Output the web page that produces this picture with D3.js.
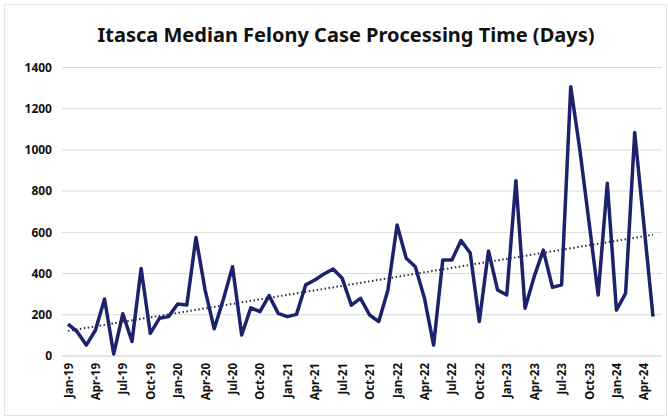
<!DOCTYPE html>
<html>
<head>
<meta charset="utf-8">
<script src="https://cdn.jsdelivr.net/npm/d3@7"></script>
<style>
  body { margin: 0; background: #fff; }
  text { font-family: "Noto Sans", "DejaVu Sans", sans-serif; font-weight: bold; fill: #111; }
</style>
</head>
<body>
<div id="chart"></div>
<script>
// months Jan-19 .. May-24
var monthNames = ["Jan", "Feb", "Mar", "Apr", "May", "Jun", "Jul", "Aug", "Sep", "Oct", "Nov", "Dec"];
var years = ["19", "20", "21", "22", "23", "24"];
var months = [];
years.forEach(function(y) {
  monthNames.forEach(function(m) { months.push(m + "-" + y); });
});
months = months.slice(0, 65);

// median days
var days = [
  155, 118, 53, 125, 277, 10, 205, 70, 425, 110, 183, 191,
  252, 247, 575, 320, 132, 275, 433, 102, 234, 215, 293, 207,
  191, 202, 345, 369, 398, 422, 377, 247, 280, 199, 167, 320,
  636, 474, 433, 280, 53, 466, 466, 560, 500, 167, 510, 320,
  296, 851, 232, 385, 514, 333, 345, 1307, 1000, 650, 296, 838,
  223, 304, 1084, 640, 191
];

var yTicks = [0, 200, 400, 600, 800, 1000, 1200, 1400];
var xTickLabels = months.filter(function(d, i) { return i % 3 === 0; });

var W = 668, H = 419;
var svg = d3.select("#chart").append("svg")
  .attr("width", W)
  .attr("height", H);

// faint frame
svg.append("rect")
  .attr("x", 4.5).attr("y", 4.5)
  .attr("width", W - 6).attr("height", H - 8)
  .attr("fill", "#fff")
  .attr("stroke", "#e4e4e4");

var x = d3.scalePoint()
  .domain(months)
  .range([68, 653]);

var y = d3.scaleLinear()
  .domain([0, 1400])
  .range([356, 67.5]);

// gridlines
svg.append("g")
  .selectAll("line")
  .data(yTicks)
  .enter().append("line")
    .attr("x1", 62)
    .attr("x2", 662)
    .attr("y1", function(d) { return y(d); })
    .attr("y2", function(d) { return y(d); })
    .attr("stroke", function(d) { return d === 0 ? "#c8c8c8" : "#dadada"; })
    .attr("stroke-width", 1);

// y axis labels
var yAxis = svg.append("g")
  .attr("transform", "translate(60,0)")
  .call(d3.axisLeft(y).tickValues(yTicks).tickFormat(d3.format("d")).tickSize(0).tickPadding(8));
yAxis.select(".domain").remove();
yAxis.selectAll("text")
  .style("font-size", "12px")
  .style("font-family", "'Noto Sans', sans-serif")
  .style("font-weight", "bold")
  .attr("fill", "#111");

// x axis labels
var xAxis = svg.append("g")
  .attr("transform", "translate(0,363)")
  .call(d3.axisBottom(x).tickValues(xTickLabels).tickSize(0).tickPadding(0));
xAxis.select(".domain").remove();
xAxis.selectAll("text")
  .style("font-size", "11.5px")
  .style("font-family", "'Noto Sans', sans-serif")
  .style("font-weight", "bold")
  .attr("fill", "#111")
  .attr("text-anchor", "end")
  .attr("dy", "0.35em")
  .attr("transform", "rotate(-90)")
  .attr("x", 0)
  .attr("y", 0);

// linear trend (least squares on month index)
var n = days.length;
var mx = d3.mean(days, function(d, i) { return i; });
var my = d3.mean(days);
var sxy = d3.sum(days, function(d, i) { return (i - mx) * (d - my); });
var sxx = d3.sum(days, function(d, i) { return (i - mx) * (i - mx); });
var slope = sxy / sxx, icpt = my - slope * mx;

svg.append("line")
  .attr("x1", x(months[0]))
  .attr("y1", y(icpt))
  .attr("x2", x(months[n - 1]))
  .attr("y2", y(icpt + slope * (n - 1)))
  .attr("stroke", "#2a2e45")
  .attr("stroke-width", 2)
  .attr("stroke-dasharray", "1.5,2.5");

// main line
var line = d3.line()
  .x(function(d, i) { return x(months[i]); })
  .y(function(d) { return y(d); });

svg.append("path")
  .datum(days)
  .attr("d", line)
  .attr("fill", "none")
  .attr("stroke", "#1c226b")
  .attr("stroke-width", 3.5)
  .attr("stroke-linejoin", "round");

// title
svg.append("text")
  .attr("x", 346)
  .attr("y", 42)
  .attr("text-anchor", "middle")
  .style("font-size", "20px")
  .text("Itasca Median Felony Case Processing Time (Days)");
</script>
</body>
</html>
